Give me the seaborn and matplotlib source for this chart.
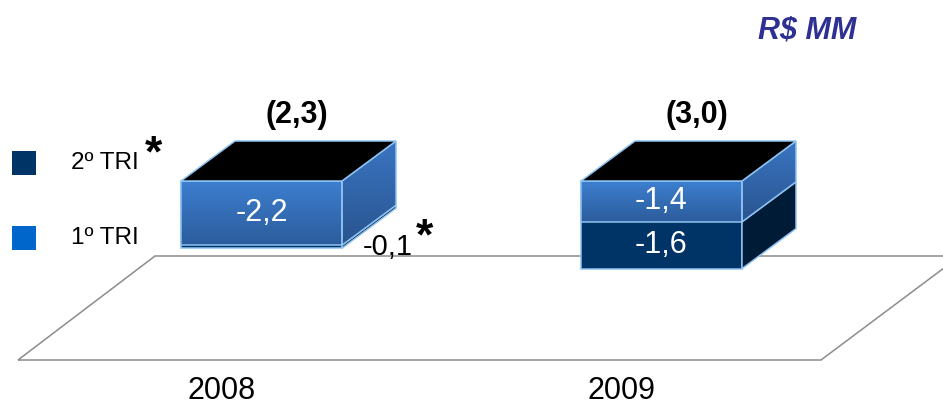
import numpy as np
import pandas as pd
import matplotlib
matplotlib.use("Agg")
import matplotlib.pyplot as plt
import seaborn as sns
from matplotlib.patches import Polygon, Rectangle
from matplotlib.colors import LinearSegmentedColormap

# ---------------- data ----------------
years = ["2008", "2009"]
tri1 = [-2.2, -1.4]          # 1º TRI
tri2 = [-0.1, -1.6]          # 2º TRI
series_labels = ["2º TRI", "1º TRI"]
unit_label = "R$ MM"
totals = [a + b for a, b in zip(tri1, tri2)]

# ---------------- style ----------------
DARK = "#003366"
DARK_SIDE = "#001B35"
LIGHT_TOP, LIGHT_BOT = "#3D7FD0", "#2C5C9C"
LIGHT_SIDE_TOP, LIGHT_SIDE_BOT = "#3A75C2", "#29548F"
LEGEND_LIGHT = "#0066CC"
EDGE = "#8EC3F4"
FLOOR = "#8C8C8C"
TITLE_C = "#2E3192"

sns.set_theme(style="white")
plt.rcParams['font.family'] = ['Liberation Sans', 'DejaVu Sans']

W, H = 943, 405
fig = plt.figure(figsize=(W / 100, H / 100), dpi=100)
ax = fig.add_axes([0, 0, 1, 1])

# pixel <-> data mapping for layout
X0_PX, STEP_PX = 261.5, 400.0
ZERO_PX, UNIT_PX = 181.0, 29.2
BAR_W = 161 / STEP_PX
DX = 54 / STEP_PX
DY = 40 / UNIT_PX


def px_x(p):
    return (p - X0_PX) / STEP_PX


def px_y(p):
    return (ZERO_PX - p) / UNIT_PX


df = pd.DataFrame({"year": years, "tri1": tri1, "total": totals})

# floor
floor = Polygon([(px_x(18), px_y(360)), (px_x(155), px_y(256)),
                 (px_x(960), px_y(256)), (px_x(821), px_y(360))],
                closed=True, fill=False, edgecolor=FLOOR, lw=1.1, zorder=1)
ax.add_patch(floor)

# front faces: total (dark) then 1º TRI (light) on top
sns.barplot(data=df, x="year", y="total", color=DARK, saturation=1,
            width=BAR_W, edgecolor=EDGE, linewidth=1.1, zorder=2, ax=ax,
            errorbar=None)
n_dark = len(ax.patches)
sns.barplot(data=df, x="year", y="tri1", color=LIGHT_TOP, saturation=1,
            width=BAR_W, edgecolor=EDGE, linewidth=1.1, zorder=3.1, ax=ax,
            errorbar=None)
light_patches = ax.patches[n_dark:]


def gradient(patch, c_top, c_bot, extent, z):
    cmap = LinearSegmentedColormap.from_list("g", [c_bot, c_top])
    img = ax.imshow(np.linspace(0, 1, 256).reshape(-1, 1), cmap=cmap,
                    extent=extent, origin="lower", aspect="auto",
                    zorder=z, interpolation="bilinear")
    img.set_clip_path(patch)
    return img


for p in light_patches:
    x0, y0 = p.get_x(), p.get_y()
    w, h = p.get_width(), p.get_height()
    ext = [x0, x0 + w, min(y0, y0 + h), max(y0, y0 + h)]
    gradient(p, LIGHT_TOP, LIGHT_BOT, ext, 3.0)
    p.set_facecolor("none")

# side and top faces
for i in range(len(years)):
    x1 = i + BAR_W / 2
    xl = i - BAR_W / 2
    # light side (0 -> tri1)
    top, bot = 0.0, tri1[i]
    side = Polygon([(x1, top), (x1 + DX, top + DY), (x1 + DX, bot + DY), (x1, bot)],
                   closed=True, facecolor="none", edgecolor=EDGE, lw=1.1, zorder=3.1)
    ax.add_patch(side)
    gradient(side, LIGHT_SIDE_TOP, LIGHT_SIDE_BOT,
             [x1, x1 + DX, bot, top + DY], 3.0)
    # dark side (tri1 -> total)
    top, bot = tri1[i], totals[i]
    side2 = Polygon([(x1, top), (x1 + DX, top + DY), (x1 + DX, bot + DY), (x1, bot)],
                    closed=True, facecolor=DARK_SIDE, edgecolor=EDGE, lw=1.1, zorder=2.5)
    ax.add_patch(side2)
    # top face
    topf = Polygon([(xl, 0), (x1, 0), (x1 + DX, DY), (xl + DX, DY)],
                   closed=True, facecolor="black", edgecolor=EDGE, lw=1.1, zorder=3.5)
    ax.add_patch(topf)


def fmt(v):
    return f"{v:.1f}".replace(".", ",")


for i in range(len(years)):
    # totals
    ax.text(i + DX / 2 + 0.02, px_y(115), f"({fmt(abs(totals[i]))})",
            ha="center", va="center", fontsize=22, fontweight="bold",
            color="black", zorder=6)
    # 1º TRI label
    ax.text(i, tri1[i] / 2, fmt(tri1[i]), ha="center", va="center",
            fontsize=22, color="white", zorder=6)
    # 2º TRI label
    mid = (tri1[i] + totals[i]) / 2
    if abs(tri2[i]) >= 0.5:
        ax.text(i, mid, fmt(tri2[i]), ha="center", va="center",
                fontsize=22, color="white", zorder=6)
    else:
        ax.text(i + px_x(388) - px_x(X0_PX), mid, fmt(tri2[i]), ha="center",
                va="center", fontsize=21, color="black", zorder=6)
        ax.text(i + px_x(424) - px_x(X0_PX), px_y(238), "*", ha="center",
                va="center", fontsize=32, fontweight="bold", color="black", zorder=6)
    # year
    ax.text(i - 0.1, px_y(391), years[i], ha="center", va="center",
            fontsize=22, color="black")

# legend
leg_colors = [DARK, LEGEND_LIGHT]
leg_y = [163, 238]
for lab, col, yy in zip(series_labels, leg_colors, leg_y):
    ax.add_patch(Rectangle((px_x(12), px_y(yy + 12)), px_x(36) - px_x(12),
                           px_y(yy - 12) - px_y(yy + 12), facecolor=col,
                           edgecolor="none", zorder=5))
    ax.text(px_x(71), px_y(yy), lab, ha="left", va="center", fontsize=17.5,
            color="black")
ax.text(px_x(153), px_y(155), "*", ha="center", va="center", fontsize=32,
        fontweight="bold", color="black")

# unit label
ax.text(px_x(807), px_y(31), unit_label, ha="center", va="center",
        fontsize=22, fontweight="bold", fontstyle="italic", color=TITLE_C)

ax.set_xlim(px_x(0), px_x(W))
ax.set_ylim(px_y(H), px_y(0))
ax.axis("off")

fig.savefig("out.png", dpi=100)
